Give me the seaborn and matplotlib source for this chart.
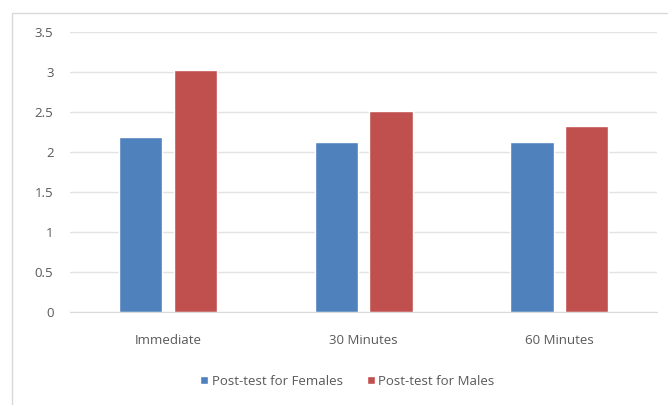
import matplotlib
matplotlib.use("Agg")
import matplotlib.pyplot as plt
import seaborn as sns
import pandas as pd
from matplotlib.patches import Rectangle

# values
times = ["Immediate", "30 Minutes", "60 Minutes"]
females = [2.19, 2.12, 2.13]
males = [3.02, 2.51, 2.33]
series = ["Post-test for Females", "Post-test for Males"]

df = pd.DataFrame({
    "Time": times * 2,
    "Score": females + males,
    "Group": [series[0]] * 3 + [series[1]] * 3,
})

sns.set_style("white")
plt.rcParams["font.family"] = ["Open Sans", "DejaVu Sans"]

fig = plt.figure(figsize=(6.68, 4.05), dpi=100)
ax = fig.add_axes([0.105, 0.23, 0.879, 0.691])

sns.barplot(data=df, x="Time", y="Score", hue="Group",
            palette=["#4F81BD", "#C0504D"], width=0.56, gap=0.21,
            saturation=1, ax=ax, legend=True)

ax.set_ylim(0, 3.5)
ax.set_yticks([0, 0.5, 1, 1.5, 2, 2.5, 3, 3.5])
ax.set_yticklabels(["0", "0.5", "1", "1.5", "2", "2.5", "3", "3.5"])
ax.set_xlim(-0.5, 2.5)
ax.yaxis.grid(True, color="#E3E3E3", linewidth=1)
ax.set_axisbelow(True)
for s in ["top", "right", "left"]:
    ax.spines[s].set_visible(False)
ax.spines["bottom"].set_color("#D9D9D9")
ax.tick_params(axis="both", length=0, labelsize=9.5, labelcolor="#595959")
ax.tick_params(axis="y", pad=12)
ax.tick_params(axis="x", pad=16)
ax.set_xlabel("")
ax.set_ylabel("")

ax.legend(loc="center", bbox_to_anchor=(0.52, 0.059), bbox_transform=fig.transFigure,
          ncol=2, frameon=False, fontsize=9.5, labelcolor="#595959",
          handlelength=0.6, handleheight=0.6, handletextpad=0.3,
          columnspacing=1.8)

# light frame around the chart area
fig.patches.append(Rectangle((0.018, -0.05), 1.0, 1.019, transform=fig.transFigure,
                             fill=False, edgecolor="#D9D9D9", linewidth=1))

fig.savefig("out.png", dpi=100)
